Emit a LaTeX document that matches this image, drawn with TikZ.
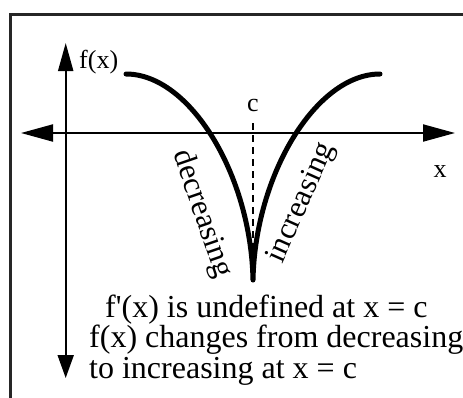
\documentclass[tikz,border=0pt]{standalone}
\usepackage{fontspec}
\setmainfont{Liberation Serif}[Ligatures=TeXOff]
\usetikzlibrary{arrows.meta,positioning}
\tikzset{
    frameline/.style={line width=2.6pt,draw=black!85},
    axisline/.style={line width=2pt,draw=black},
    curveline/.style={line width=5pt,draw=black,line cap=round,line join=round},
    cline/.style={line width=2.2pt,draw=black,dash pattern=on 7pt off 5pt},
    lbl/.style={font=\fontsize{26}{26}\selectfont,inner sep=0pt},
    slanted/.style={font=\fontsize{31}{31}\selectfont,inner sep=0pt},
    note/.style={font=\fontsize{32}{31}\selectfont,inner sep=0pt,anchor=base west}
}
\begin{document}
\begin{tikzpicture}[x=1pt,y=-1pt]
  \useasboundingbox (0,0) rectangle (463,397);

  % Rahmen
  \draw[frameline] (10.7,402) -- (10.7,14.7) -- (468,14.7);

  % Achsen
  \coordinate (ytop) at (65.7,43);
  \coordinate (ybot) at (65.7,378);
  \coordinate (xleft) at (21,133);
  \coordinate (xright) at (455,133);
  \draw[axisline,{Triangle[length=23pt,width=16pt]}-{Triangle[length=28pt,width=15pt]}]
    (ybot) -- (ytop);
  \draw[axisline,{Triangle[length=32pt,width=17pt]}-{Triangle[length=32pt,width=17pt]}]
    (xleft) -- (xright);

  % Kurve mit Spitze bei c
  \coordinate (L) at (126,74);
  \coordinate (C) at (253,280);
  \coordinate (R) at (380,74);
  \draw[curveline]
    (L) .. controls (190,74) and (251,175) .. (C)
        .. controls (255,175) and (316,74) .. (R);

  % senkrechte Linie bei c
  \coordinate (ctop) at (253,123);
  \draw[cline] (ctop) -- (C);

  % Beschriftungen
  \node[lbl,anchor=base west] (fx) at (79,68) {f(x)};
  \node[lbl,anchor=base] (c) at (253,111) {c};
  \node[lbl,anchor=base] (xlab) at (440,177) {x};
  \node[slanted,rotate=-71] (dec) at (202,214) {decreasing};
  \node[slanted,rotate=66] (inc) at (302,203) {increasing};

  % Text unten
  \node[note] (n1) at (105,317) {f'(x) is undefined at x = c};
  \node[note] (n2) at (89,347) {f(x) changes from decreasing};
  \node[note] (n3) at (89,378) {to increasing at x = c};
\end{tikzpicture}
\end{document}
